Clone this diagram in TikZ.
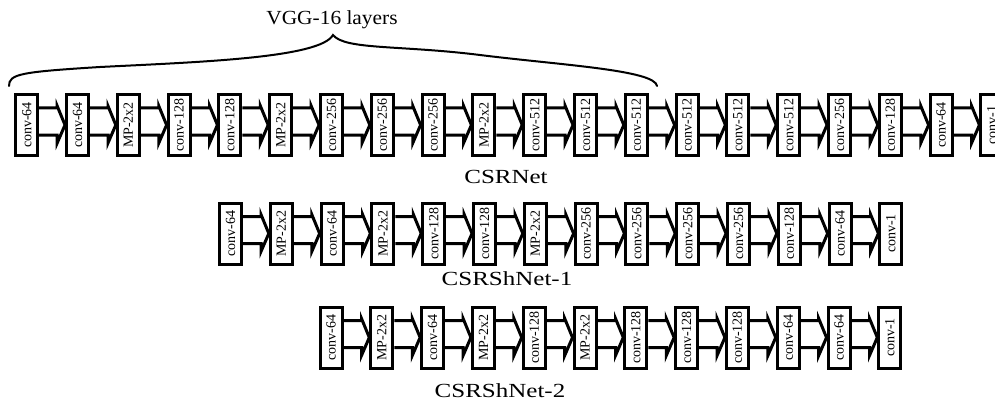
\documentclass[tikz,border=0pt]{standalone}
\usepackage{fontspec}
\usepackage{graphicx}
\setmainfont{Liberation Serif}
\newfontfamily\NetFont[FakeStretch=1.25]{Liberation Serif}
\newfontfamily\VggFont[FakeStretch=1.07]{Liberation Serif}
\usetikzlibrary{calc}

\providecommand{\CNpitch}{50.8}
\providecommand{\CNw}{22pt}
\providecommand{\CNh}{61pt}
\providecommand{\CNlay}{\fontsize{14}{14}\selectfont}
\providecommand{\CNnet}{\NetFont\fontsize{20}{20}\selectfont}
\providecommand{\CNvgg}{\VggFont\fontsize{20}{20}\selectfont}

\tikzset{
  layer/.style={rectangle, draw=black, line width=3pt, inner sep=0pt,
                minimum width=\CNw, minimum height=\CNh, font=\CNlay},
  blk/.style={draw=black, line width=3pt, line join=miter},
  netname/.style={anchor=base, inner sep=0pt, font=\CNnet},
  brace/.style={draw=black, line width=2pt, line cap=round}
}

% block arrow from one layer to the next
\newcommand{\blockarrow}[2]{%
  \draw[blk] ($(#1.east)+(0,-17)$) -- ++(18,0) -- ++(0,-2) --
    (#2.west) -- ($(#1.east)+(18,18)$) -- ++(0,-8) --
    ($(#1.east)+(0,10)$);
}

\begin{document}
\begin{tikzpicture}[x=1pt, y=-1pt]

\useasboundingbox (0,0) rectangle (995,401);

\foreach \r/\x/\y/\names in {
  a/26.7/125/{conv-64,conv-64,MP-2x2,conv-128,conv-128,MP-2x2,conv-256,
    conv-256,conv-256,MP-2x2,conv-512,conv-512,conv-512,conv-512,conv-512,
    conv-512,conv-256,conv-128,conv-64,conv-1},
  b/230.5/233.5/{conv-64,MP-2x2,conv-64,MP-2x2,conv-128,conv-128,MP-2x2,
    conv-256,conv-256,conv-256,conv-256,conv-128,conv-64,conv-1},
  c/331/337.5/{conv-64,MP-2x2,conv-64,MP-2x2,conv-128,MP-2x2,conv-128,
    conv-128,conv-128,conv-64,conv-64,conv-1}}{

  \foreach \lbl [count=\i, remember=\i as \j (initially 0)] in \names {

    \node (\r\i) [layer] at (\x+\CNpitch*\i-\CNpitch,\y)
        {\rotatebox{90}{\lbl}};

    % Layer -> Layer
    \ifnum\i>1
      \blockarrow{\r\j}{\r\i}
    \fi
  }
}

\node (neta) [netname] at (506,183) {CSRNet};
\node (netb) [netname] at (507,285) {CSRShNet-1};
\node (netc) [netname] at (500,397) {CSRShNet-2};

\node (vgg) [netname, font=\CNvgg] at (332,25) {VGG-16 layers};

% Brace over VGG-16 part
\draw[brace]
    (9,86) .. controls (9,74) and (20,72) .. (100,67)
    .. controls (200,62) and (320,58) .. (333,35)
    .. controls (345,50) and (400,45) .. (480,55)
    .. controls (560,65) and (655,70) .. (657,86);

\end{tikzpicture}
\end{document}
